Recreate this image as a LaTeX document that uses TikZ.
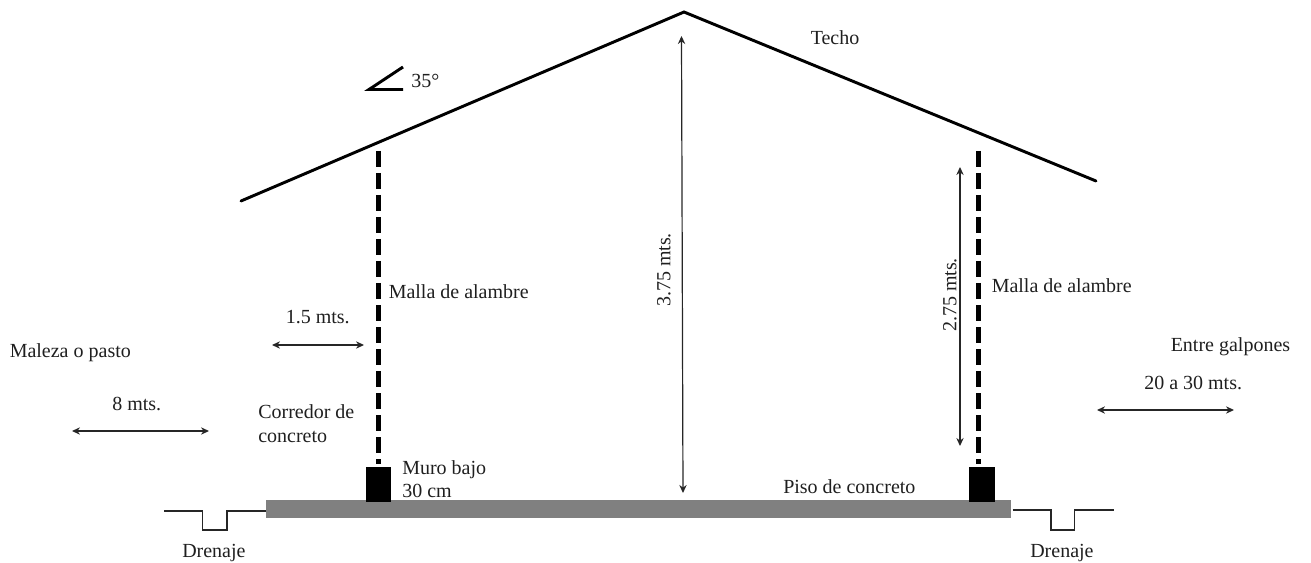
\documentclass[tikz,border=0pt]{standalone}
\usepackage{fontspec}
\setmainfont{Liberation Serif}
\usetikzlibrary{arrows.meta}
\tikzset{
  lbl/.style={inner sep=0pt,font=\fontsize{15}{18}\selectfont,text=black!88},
  roof/.style={line width=2.2pt,line cap=round},
  mesh/.style={line width=3.6pt,dash pattern=on 12pt off 4.5pt},
  dim/.style={line width=0.9pt,draw=black!85,{Stealth[length=6pt,width=5.5pt]}-{Stealth[length=6pt,width=5.5pt]}},
  ground/.style={line width=1.05pt,draw=black!85},
  wall/.style={fill=black,draw=none},
  slab/.style={fill=black!50,draw=none}
}
\begin{document}
\begin{tikzpicture}[x=0.75pt,y=-0.75pt]
\useasboundingbox (0,0) rectangle (1311,563);
% roof
\coordinate (eaveL) at (241,201);
\coordinate (ridge) at (684,12);
\coordinate (eaveR) at (1096,181);
\draw[roof] (eaveL) -- (ridge) -- (eaveR);
% angle mark
\coordinate (angA) at (403,67);
\coordinate (angV) at (369,89.5);
\coordinate (angB) at (403,89.5);
\draw[line width=2.2pt] (angA) -- (angV) -- (angB);
\node[lbl,anchor=west] (ang) at (411,81) {35°};
% slab and walls
\node[slab,minimum width=745pt*0.75,minimum height=18pt*0.75,inner sep=0pt,anchor=north west] (piso) at (266,500) {};
\node[wall,minimum width=25pt*0.75,minimum height=35pt*0.75,inner sep=0pt,anchor=north west] (muroL) at (366,467) {};
\node[wall,minimum width=26pt*0.75,minimum height=35pt*0.75,inner sep=0pt,anchor=north west] (muroR) at (969,467) {};
% mesh
\coordinate (mL) at (378.3,151);
\coordinate (mLb) at (378.3,463.5);
\coordinate (mR) at (978.7,151);
\coordinate (mRb) at (978.7,463.5);
\draw[mesh] (mL) -- (mLb);
\draw[mesh] (mR) -- (mRb);
% ground with drains
\coordinate (gL) at (164,511);
\coordinate (gR) at (1114,510);
\draw[ground] (gL) -- (202.5,511) -- (202.5,530) -- (227,530) -- (227,511) -- (piso.west |- 0,511);
\draw[ground] (piso.east |- 0,510) ++(1,0) -- (1051,510) -- (1051,530) -- (1074.5,530) -- (1074.5,510) -- (gR);
% dimension anchors
\coordinate (h1) at (681.5,36);
\coordinate (h2) at (683,493);
\draw[dim] (h1) -- (h2);
\coordinate (r1) at (960,167);
\coordinate (r2) at (960,446);
\draw[dim] (r1) -- (r2);
\coordinate (c1) at (272,345);
\coordinate (c2) at (364,345);
\draw[dim] (c1) -- (c2);
\coordinate (p1) at (72,431);
\coordinate (p2) at (209,431);
\draw[dim] (p1) -- (p2);
\coordinate (e1) at (1097,410);
\coordinate (e2) at (1234,410);
\draw[dim] (e1) -- (e2);
% labels
\node[lbl,anchor=west] (techo) at (810.5,38) {Techo};
\node[lbl,anchor=west] (mallaL) at (388.5,292) {Malla de alambre};
\node[lbl,anchor=west] (mallaR) at (991.5,286) {Malla de alambre};
\node[lbl,anchor=west] (m15) at (285.5,317) {1.5 mts.};
\node[lbl,anchor=west] (maleza) at (9.5,353) {Maleza o pasto};
\node[lbl,anchor=west] (m8) at (112,404) {8 mts.};
\node[lbl,anchor=west] (corr1) at (258,412) {Corredor de};
\node[lbl,anchor=west] (corr2) at (258,437) {concreto};
\node[lbl,anchor=west] (muro1) at (402,470) {Muro bajo};
\node[lbl,anchor=west] (muro2) at (402,491) {30 cm};
\node[lbl,anchor=west] (pisol) at (783,487) {Piso de concreto};
\node[lbl,anchor=west] (dren1) at (182,553) {Drenaje};
\node[lbl,anchor=west] (dren2) at (1030,553) {Drenaje};
\node[lbl,anchor=west] (entre) at (1170.5,347) {Entre galpones};
\node[lbl,anchor=west] (m2030) at (1144,383) {20 a 30 mts.};
\node[lbl,rotate=90] (m375) at (664,270) {3.75 mts.};
\node[lbl,rotate=90] (m275) at (950,295) {2.75 mts.};
\end{tikzpicture}
\end{document}
